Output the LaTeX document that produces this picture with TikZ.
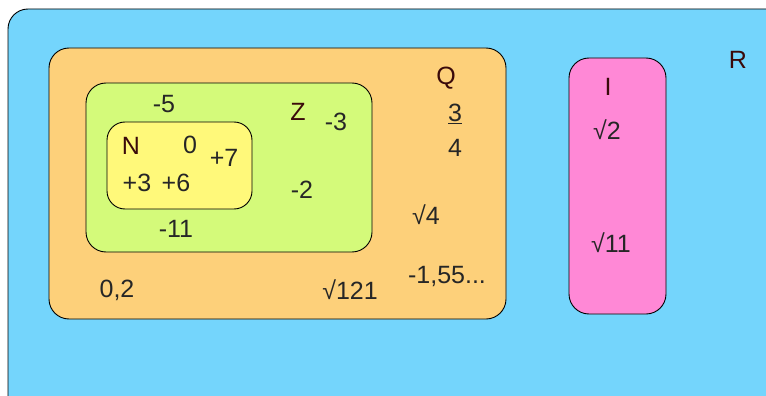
\documentclass[tikz,border=0pt]{standalone}
\usepackage{fontspec}
\setmainfont{Liberation Sans}
\definecolor{setR}{HTML}{74D5FC}
\definecolor{setQ}{HTML}{FDD07A}
\definecolor{setZ}{HTML}{D4FA7A}
\definecolor{setN}{HTML}{FFF97A}
\definecolor{setI}{HTML}{FF88D6}
\definecolor{setname}{HTML}{3A0A0A}
\begin{document}
\begin{tikzpicture}[x=1pt,y=-1pt,
  setbox/.style={draw=black, line width=0.9pt, rounded corners=20pt},
  elem/.style={inner sep=0pt, font=\fontsize{25}{29}\selectfont, text=black!85},
  setlabel/.style={elem, text=setname}]
\useasboundingbox (0,0) rectangle (766,396);
\clip (0,0) rectangle (766,396);
% sets
\filldraw[setbox, fill=setR] (8,9) rectangle (790,420);
\filldraw[setbox, fill=setQ] (49,48) rectangle (506,319);
\filldraw[setbox, fill=setZ] (86,83) rectangle (372,252);
\filldraw[setbox, fill=setN, rounded corners=18pt] (107,122) rectangle (252,209);
\filldraw[setbox, fill=setI] (569,58) rectangle (666,314);
% set names
\node[setlabel] (lN) at (131,146) {N};
\node[setlabel] (lZ) at (298,112) {Z};
\node[setlabel] (lQ) at (446,78) {Q};
\node[setlabel] (lI) at (608,87) {I};
\node[setlabel] (lR) at (738,60) {R};
% elements of N
\node[elem] (e0) at (190,145) {0};
\node[elem] (e7) at (224,158) {+7};
\node[elem] (e3) at (137,183) {+3};
\node[elem] (e6) at (176,183) {+6};
% elements of Z
\node[elem] (em5) at (164,104) {-5};
\node[elem] (em3) at (336,122) {-3};
\node[elem] (em2) at (302,190) {-2};
\node[elem] (em11) at (176,229) {-11};
% elements of Q
\node[elem] (q02) at (117,290) {0,2};
\node[elem] (q121) at (350,290) {√121};
\node[elem] (qnum) at (455,114) {\underline{3}};
\node[elem] (qden) at (455,148) {4};
\node[elem] (q4) at (426,215) {√4};
\node[elem] (q155) at (447,276) {-1,55...};
% elements of I
\node[elem] (i2) at (607,130) {√2};
\node[elem] (i11) at (611,243) {√11};
\end{tikzpicture}
\end{document}
